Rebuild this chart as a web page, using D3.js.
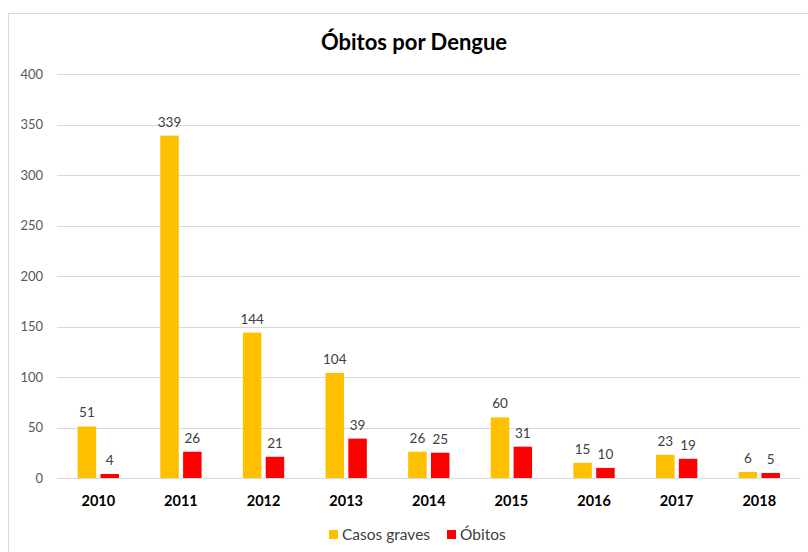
<!DOCTYPE html>
<html lang="pt">
<head>
<meta charset="UTF-8">
<title>Óbitos por Dengue</title>
<script src="https://d3js.org/d3.v7.min.js"></script>
<style>
  body { margin: 0; background: #fff; }
  text { font-family: Lato, "Open Sans", sans-serif; }
</style>
</head>
<body>
<svg id="chart" width="808" height="552"></svg>
<script>
const years = ["2010", "2011", "2012", "2013", "2014", "2015", "2016", "2017", "2018"];
const casosGraves = [51, 339, 144, 104, 26, 60, 15, 23, 6];
const obitos = [4, 26, 21, 39, 25, 31, 10, 19, 5];
const yTicks = [0, 50, 100, 150, 200, 250, 300, 350, 400];
const seriesNames = ["Casos graves", "Óbitos"];
const seriesColors = ["#FFC000", "#FF0000"];

const svg = d3.select("#chart");
const margin = { top: 74, right: 7.4, bottom: 74, left: 57 };
const width = 808 - margin.left - margin.right;
const height = 552 - margin.top - margin.bottom;

// chart border
svg.append("rect")
    .attr("x", 8.5).attr("y", 13.5)
    .attr("width", 830).attr("height", 560)
    .attr("fill", "none").attr("stroke", "#d9d9d9");

svg.append("text")
    .attr("x", 414).attr("y", 50)
    .attr("text-anchor", "middle")
    .attr("font-size", 22).attr("font-weight", "bold")
    .attr("fill", "#000")
    .text("Óbitos por Dengue");

const g = svg.append("g").attr("transform", `translate(${margin.left},${margin.top})`);

const x = d3.scaleBand().domain(years).range([0, width]).paddingInner(0.5).paddingOuter(0.25);
const xs = d3.scaleBand().domain([0, 1]).range([0, x.bandwidth()]).paddingInner(0.19);
const y = d3.scaleLinear().domain([0, 400]).range([height, 0]);

// grid
g.selectAll(".grid").data(yTicks).enter().append("line")
    .attr("x1", 0).attr("x2", width)
    .attr("y1", d => Math.round(y(d)) + 0.5).attr("y2", d => Math.round(y(d)) + 0.5)
    .attr("stroke", "#d9d9d9");

g.selectAll(".ytick").data(yTicks).enter().append("text")
    .attr("x", -14).attr("y", d => y(d))
    .attr("dy", "0.35em")
    .attr("text-anchor", "end")
    .attr("font-size", 13).attr("fill", "#595959")
    .text(d => d);

const series = [casosGraves, obitos];
series.forEach((vals, si) => {
    const bars = g.append("g");
    bars.selectAll("rect").data(vals).enter().append("rect")
        .attr("x", (d, i) => x(years[i]) + xs(si))
        .attr("y", d => y(d))
        .attr("width", xs.bandwidth())
        .attr("height", d => y(0) - y(d))
        .attr("fill", seriesColors[si]);
    bars.selectAll("text").data(vals).enter().append("text")
        .attr("x", (d, i) => x(years[i]) + xs(si) + xs.bandwidth() / 2)
        .attr("y", d => y(d) - 9)
        .attr("text-anchor", "middle")
        .attr("font-size", 13.5).attr("fill", "#404040")
        .text(d => d);
});

g.selectAll(".xlab").data(years).enter().append("text")
    .attr("x", d => x(d) + x.bandwidth() / 2)
    .attr("y", height + 28)
    .attr("text-anchor", "middle")
    .attr("font-size", 14.5).attr("font-weight", "bold")
    .attr("fill", "#000")
    .text(d => d);

// legend
const legendX = [329, 447];
seriesNames.forEach((name, i) => {
    svg.append("rect")
        .attr("x", legendX[i]).attr("y", 530)
        .attr("width", 9).attr("height", 9)
        .attr("fill", seriesColors[i]);
    svg.append("text")
        .attr("x", legendX[i] + 13).attr("y", 535)
        .attr("dy", "0.35em")
        .attr("font-size", 15.5).attr("fill", "#404040")
        .text(name);
});
</script>
</body>
</html>
